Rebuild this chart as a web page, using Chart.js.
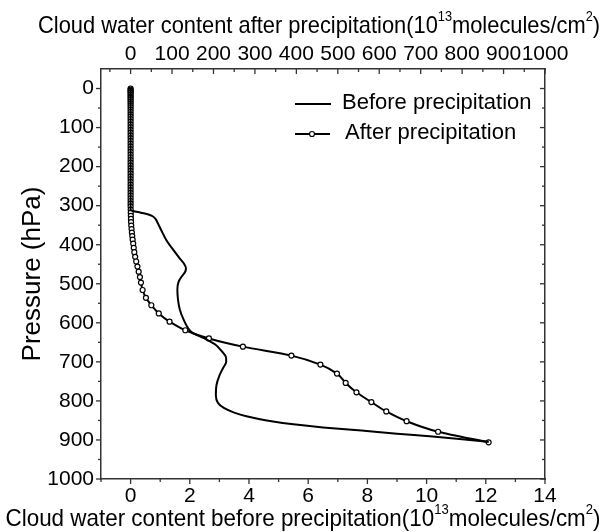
<!DOCTYPE html>
<html>
<head>
<meta charset="utf-8">
<script src="https://cdn.jsdelivr.net/npm/chart.js@4/dist/chart.umd.min.js"></script>
<style>
  html, body { margin: 0; padding: 0; background: #fff; }
  #wrap { width: 608px; height: 532px; position: relative; }
</style>
</head>
<body>
<div id="wrap"><canvas id="chartCanvas"></canvas></div>
<script>
// before precipitation profile (bottom axis, 10^13 molecules/cm^2)
const beforePressure = [0, 312, 318, 326, 334, 345, 365, 390, 412, 433, 448, 460, 470, 482, 495, 515, 540, 565, 590, 612, 625, 640, 655, 672, 688, 700, 715, 735, 760, 785, 805, 818, 830, 840, 850, 860, 868, 876, 884, 891, 898, 905];
const beforeValues = [0, 0, 0.35, 0.72, 0.84, 0.92, 1.05, 1.22, 1.43, 1.64, 1.8, 1.87, 1.84, 1.72, 1.62, 1.58, 1.6, 1.66, 1.78, 1.93, 2.08, 2.5, 2.85, 3.07, 3.22, 3.23, 3.13, 3.0, 2.9, 2.88, 2.95, 3.15, 3.5, 3.95, 4.6, 5.5, 6.5, 7.8, 9.0, 10.2, 11.2, 12.1];

// after precipitation profile (top axis, 10^13 molecules/cm^2)
const afterPressure = [0, 3, 6, 9, 12, 16, 20, 24, 28, 33, 38, 43, 48, 54, 60, 66, 72, 78, 85, 92, 99, 106, 113, 120, 127, 134, 141, 148, 155, 162, 169, 176, 183, 190, 197, 204, 211, 218, 225, 232, 239, 246, 253, 260, 267, 274, 281, 288, 295, 302, 310, 318, 326, 334, 342, 351, 360, 369, 378, 387, 397, 408, 419, 431, 443, 456, 469, 483, 497, 516, 536, 555, 576, 597, 619, 640, 661, 684, 707, 730, 754, 778, 803, 827, 852, 879, 906];
const afterValues = [0, 0, 0, 0, 0, 0, 0, 0, 0, 0, 0, 0, 0, 0, 0, 0, 0, 0, 0, 0, 0, 0, 0, 0, 0, 0, 0, 0, 0, 0, 0, 0, 0, 0, 0, 0, 0, 0, 0, 0, 0, 0, 0, 0, 0, 0, 0, 0, 0, 0, 0.2, 0.4, 0.6, 0.8, 1.1, 1.6, 2.3, 3.1, 4.0, 5.0, 6.3, 7.6, 9.0, 11, 13.5, 16.5, 19.5, 22.5, 25, 29, 37, 50, 68, 94, 132, 189, 271, 388, 458, 498, 519, 545, 581, 617, 666, 742, 864];

// axis ticks
const bottomTicks = [0, 2, 4, 6, 8, 10, 12, 14];
const bottomMinor = [-1, 1, 3, 5, 7, 9, 11, 13];
const topTicks = [0, 100, 200, 300, 400, 500, 600, 700, 800, 900, 1000];
const topMinor = [-50, 50, 150, 250, 350, 450, 550, 650, 750, 850, 950];
const pressureTicks = [0, 100, 200, 300, 400, 500, 600, 700, 800, 900, 1000];
const pressureMinor = [50, 150, 250, 350, 450, 550, 650, 750, 850, 950];

// axis titles, split so 13 and 2 can be raised
const topTitle = [['Cloud water content after precipitation(10', 0], ['13', 1], ['molecules/cm', 0], ['2', 1], [')', 0]];
const bottomTitle = [['Cloud water content before precipitation(10', 0], ['13', 1], ['molecules/cm', 0], ['2', 1], [')', 0]];

const FONT = '"Liberation Sans", Arial, sans-serif';
const AXIS = '#333';

const toPoints = (ys, xs) => ys.map((p, i) => ({ x: xs[i], y: p }));
const setTicks = vals => scale => { scale.ticks = vals.map(v => ({ value: v })); };

function drawTitle(ctx, parts, cx, cy, width) {
  const big = '24px ' + FONT, small = '14px ' + FONT;
  let natural = 0;
  parts.forEach(([t, sup]) => { ctx.font = sup ? small : big; natural += ctx.measureText(t).width; });
  const k = Math.min(1, width / natural);
  ctx.save();
  ctx.translate(cx - natural * k / 2, cy);
  ctx.scale(k, 1);
  let x = 0;
  parts.forEach(([t, sup]) => {
    ctx.font = sup ? small : big;
    ctx.fillText(t, x, sup ? -9 : 0);
    x += ctx.measureText(t).width;
  });
  ctx.restore();
}

// tick marks: out on left/bottom, in on top/right; legend and x titles
const extras = {
  id: 'extras',
  afterDraw(chart) {
    const { ctx, chartArea: a, scales } = chart;
    const specs = [
      { s: scales.x, vals: bottomTicks, len: 5, edge: a.bottom, dir: 1 },
      { s: scales.x, vals: bottomMinor, len: 3, edge: a.bottom, dir: 1 },
      { s: scales.x2, vals: topTicks, len: 5, edge: a.top, dir: 1 },
      { s: scales.x2, vals: topMinor, len: 3, edge: a.top, dir: 1 },
      { s: scales.y, vals: pressureTicks, len: 5, edge: a.left, dir: -1 },
      { s: scales.y, vals: pressureMinor, len: 3, edge: a.left, dir: -1 },
      { s: scales.y2, vals: pressureTicks, len: 5, edge: a.right, dir: -1 },
      { s: scales.y2, vals: pressureMinor, len: 3, edge: a.right, dir: -1 }
    ];
    ctx.save();
    ctx.strokeStyle = AXIS;
    ctx.lineWidth = 1.3;
    specs.forEach(({ s, vals, len, edge, dir }) => {
      vals.forEach(v => {
        const p = s.getPixelForValue(v);
        ctx.beginPath();
        if (s.isHorizontal()) {
          ctx.moveTo(p, edge);
          ctx.lineTo(p, edge + dir * len);
        } else {
          ctx.moveTo(edge, p);
          ctx.lineTo(edge + dir * len, p);
        }
        ctx.stroke();
      });
    });

    ctx.fillStyle = '#000';
    ctx.textBaseline = 'middle';
    ctx.textAlign = 'left';
    drawTitle(ctx, topTitle, 319, 26, 562);
    drawTitle(ctx, bottomTitle, 303, 519, 595);

    // legend
    ctx.strokeStyle = '#000';
    ctx.lineWidth = 2;
    ctx.font = '22px ' + FONT;
    ctx.beginPath();
    ctx.moveTo(295, 104);
    ctx.lineTo(331, 104);
    ctx.stroke();
    ctx.fillText('Before precipitation', 342, 103);
    ctx.beginPath();
    ctx.moveTo(295, 134);
    ctx.lineTo(330, 134);
    ctx.stroke();
    ctx.beginPath();
    ctx.arc(312, 134, 2.5, 0, Math.PI * 2);
    ctx.fillStyle = '#fff';
    ctx.fill();
    ctx.lineWidth = 1.2;
    ctx.stroke();
    ctx.fillStyle = '#000';
    ctx.fillText('After precipitation', 345, 133);
    ctx.restore();
  }
};

const tickFont = { family: FONT, size: 21 };
const plain = v => String(v);

new Chart(document.getElementById('chartCanvas'), {
  type: 'line',
  data: {
    datasets: [
      {
        label: 'Before precipitation',
        data: toPoints(beforePressure, beforeValues),
        xAxisID: 'x',
        yAxisID: 'y',
        borderColor: '#000',
        borderWidth: 2,
        pointRadius: 0,
        cubicInterpolationMode: 'monotone'
      },
      {
        label: 'After precipitation',
        data: toPoints(afterPressure, afterValues),
        xAxisID: 'x2',
        yAxisID: 'y',
        borderColor: '#000',
        borderWidth: 2,
        pointRadius: 2.5,
        pointBorderWidth: 1.2,
        pointBackgroundColor: '#fff',
        pointBorderColor: '#000',
        cubicInterpolationMode: 'monotone'
      }
    ]
  },
  options: {
    indexAxis: 'y',
    responsive: true,
    maintainAspectRatio: false,
    animation: false,
    layout: { padding: 0 },
    plugins: {
      legend: { display: false },
      tooltip: { enabled: false }
    },
    scales: {
      x: {
        type: 'linear',
        position: 'bottom',
        min: -1,
        max: 14,
        afterBuildTicks: setTicks(bottomTicks),
        afterFit: s => { s.height = 53; },
        grid: { display: false, drawTicks: false },
        border: { display: true, color: AXIS, width: 1.5 },
        ticks: { font: tickFont, color: '#000', padding: 5, maxRotation: 0, autoSkip: false, callback: plain }
      },
      x2: {
        type: 'linear',
        position: 'top',
        min: -1000 / 14,
        max: 1000,
        afterBuildTicks: setTicks(topTicks),
        afterFit: s => { s.height = 69; },
        grid: { display: false, drawTicks: false },
        border: { display: true, color: AXIS, width: 1.5 },
        ticks: { font: tickFont, color: '#000', padding: 2, maxRotation: 0, autoSkip: false, callback: plain }
      },
      y: {
        type: 'linear',
        position: 'left',
        reverse: true,
        min: -50,
        max: 1000,
        afterBuildTicks: setTicks(pressureTicks),
        afterFit: s => { s.width = 101; },
        grid: { display: false, drawTicks: false },
        border: { display: true, color: AXIS, width: 1.5 },
        ticks: { font: tickFont, color: '#000', padding: 7, autoSkip: false, callback: plain },
        title: {
          display: true,
          text: 'Pressure (hPa)',
          font: { family: FONT, size: 26, lineHeight: 1 },
          color: '#000',
          padding: { top: 20, bottom: 0 }
        }
      },
      y2: {
        type: 'linear',
        position: 'right',
        reverse: true,
        min: -50,
        max: 1000,
        afterBuildTicks: setTicks(pressureTicks),
        afterFit: s => { s.width = 63; },
        grid: { display: false, drawTicks: false },
        border: { display: true, color: AXIS, width: 1.5 },
        ticks: { display: false }
      }
    }
  },
  plugins: [extras]
});
</script>
</body>
</html>
